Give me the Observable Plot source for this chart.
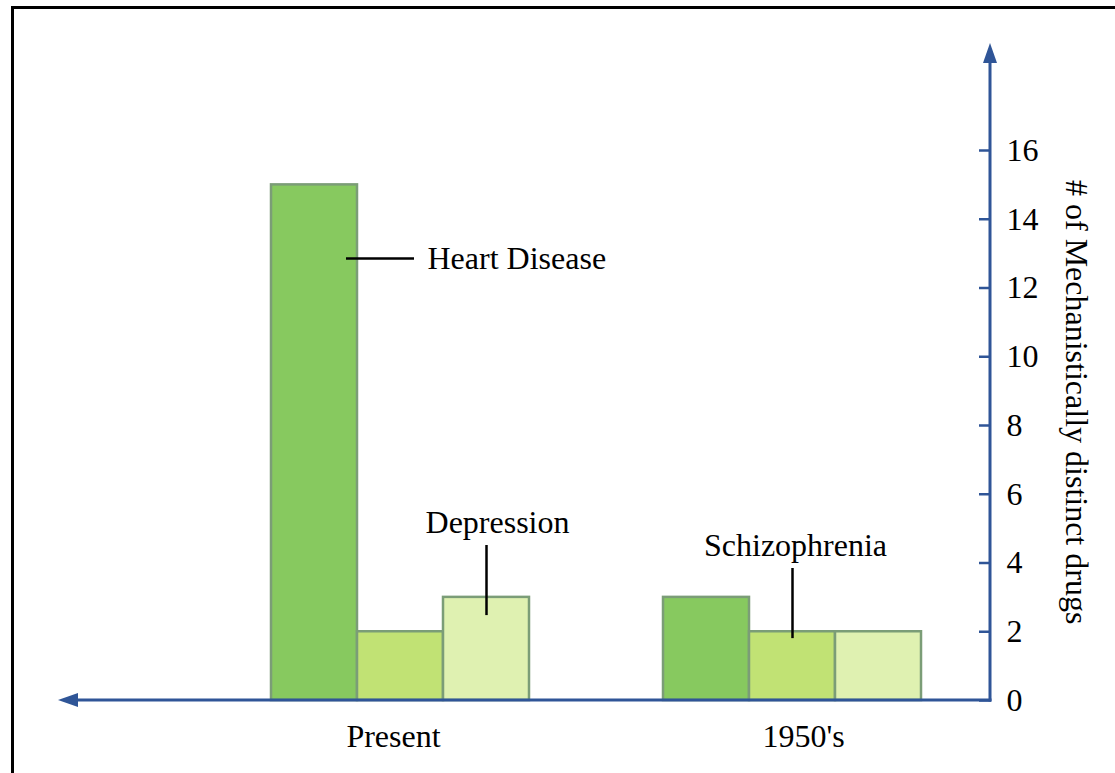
<!DOCTYPE html>
<html><head><meta charset="utf-8">
<script src="https://cdn.jsdelivr.net/npm/d3@7"></script>
<script src="https://cdn.jsdelivr.net/npm/@observablehq/plot@0.6"></script>
<style>
html,body{margin:0;padding:0;background:#fff;overflow:hidden;width:1115px;height:773px}
#wrap{position:relative;width:1115px;height:773px}
#frame{position:absolute;left:11px;top:6px;width:1200px;height:900px;border:3px solid #000;box-sizing:border-box}
#chart{position:absolute;left:0;top:0}
#ytitle{position:absolute;writing-mode:vertical-rl;font-family:"Liberation Serif","Times New Roman",serif;font-size:32px;line-height:32px;left:1061px;top:180px;color:#000;white-space:nowrap}
</style></head>
<body><div id="wrap"><div id="frame"></div><div id="chart"></div><div id="ytitle"># of Mechanistically distinct drugs</div></div>
<script>
// ---- data ----
const periods = ["Present", "1950's"];
const seriesNames = ["Heart Disease", "Schizophrenia", "Depression"];
const presentValues = [15, 2, 3];
const fiftiesValues = [3, 2, 2];
const seriesColors = ["#87c95f", "#c1e274", "#dff1b1"];
const yTicks = [0, 2, 4, 6, 8, 10, 12, 14, 16];

// annotations (label, where it points)
const annotLabels = ["Heart Disease", "Depression", "Schizophrenia"];
const annotPeriods = ["Present", "Present", "1950's"];
const annotSeries = ["Heart Disease", "Depression", "Schizophrenia"];
const annotTextY = [12.86, 5.18, 4.51];
const annotLeadY1 = [12.86, 2.47, 1.8];
const annotLeadY2 = [12.86, 4.51, 3.84];

// ---- build tables ----
const table = [];
periods.forEach((p, i) => {
  const vals = i === 0 ? presentValues : fiftiesValues;
  seriesNames.forEach((s, j) => table.push({period: p, series: s, value: vals[j]}));
});
const annots = annotLabels.map((l, i) => ({
  label: l, period: annotPeriods[i], series: annotSeries[i],
  ty: annotTextY[i], y1: annotLeadY1[i], y2: annotLeadY2[i]
}));
const horiz = annots.filter(d => d.y1 === d.y2);
const vert = annots.filter(d => d.y1 !== d.y2);

const blue = "#2f5597";
const font = "Liberation Serif";

const plot = Plot.plot({
  width: 1115,
  height: 773,
  marginTop: 150,
  marginBottom: 73,
  marginLeft: 270,
  marginRight: 193,
  style: {fontFamily: font, fontSize: "32px", background: "transparent", color: "#000"},
  fx: {domain: periods, paddingInner: 0.337, paddingOuter: 0, label: null, axis: null},
  x: {domain: seriesNames, padding: 0, axis: null},
  y: {domain: [0, 16], label: null},
  color: {domain: seriesNames, range: seriesColors},
  marks: [
    Plot.barY(table, {fx: "period", x: "series", y: "value", fill: "series", stroke: "#7b9d77", strokeWidth: 2.5}),
    Plot.tickY(horiz, {fx: "period", x: "series", y: "y1", stroke: "#000", strokeWidth: 2.5, insetLeft: 75, insetRight: -57}),
    Plot.text(horiz, {fx: "period", x: "series", y: "ty", text: "label", textAnchor: "start", dx: 113, fontSize: 32, fill: "#000"}),
    Plot.ruleX(vert, {fx: "period", x: "series", y1: "y1", y2: "y2", stroke: "#000", strokeWidth: 2.5}),
    Plot.text(vert.filter(d => d.period === periods[0]), {fx: "period", x: "series", y: "ty", text: "label", dx: 11, fontSize: 32, fill: "#000"}),
    Plot.text(vert.filter(d => d.period === periods[1]), {fx: "period", x: "series", y: "ty", text: "label", dx: 3, fontSize: 32, fill: "#000"}),
    // category labels under each group
    Plot.text([periods[0]], {fx: d => d, text: d => d, frameAnchor: "bottom", lineAnchor: "top", dy: 24, dx: -7, fontSize: 32, fill: "#000"}),
    Plot.text([periods[1]], {fx: d => d, text: d => d, frameAnchor: "bottom", lineAnchor: "top", dy: 24, dx: 11, fontSize: 32, fill: "#000"}),
    Plot.axisY(yTicks, {anchor: "right", tickSize: 12, tickPadding: 16, dx: 56, stroke: blue, strokeWidth: 2.5, fill: "#000", fontSize: 32, label: null})
  ]
});
document.getElementById("chart").appendChild(plot);

// axis lines with arrowheads, positioned from Plot's y scale
const svg = d3.select(plot);
const ys = plot.scale("y");
const y0 = ys.apply(0);
const yAxisX = 990, xLeft = 58, yTop = ys.apply(16) - 107;
const g = svg.append("g");
g.append("line").attr("x1", yAxisX).attr("x2", yAxisX).attr("y1", y0 + 1.5).attr("y2", yTop + 15)
  .attr("stroke", blue).attr("stroke-width", 3);
g.append("line").attr("x1", yAxisX + 1.5).attr("x2", xLeft + 15).attr("y1", y0).attr("y2", y0)
  .attr("stroke", blue).attr("stroke-width", 3);
g.append("polygon").attr("points", `${yAxisX},${yTop} ${yAxisX - 7},${yTop + 20} ${yAxisX + 7},${yTop + 20}`).attr("fill", blue);
g.append("polygon").attr("points", `${xLeft},${y0} ${xLeft + 20},${y0 - 7} ${xLeft + 20},${y0 + 7}`).attr("fill", blue);
</script></body></html>
